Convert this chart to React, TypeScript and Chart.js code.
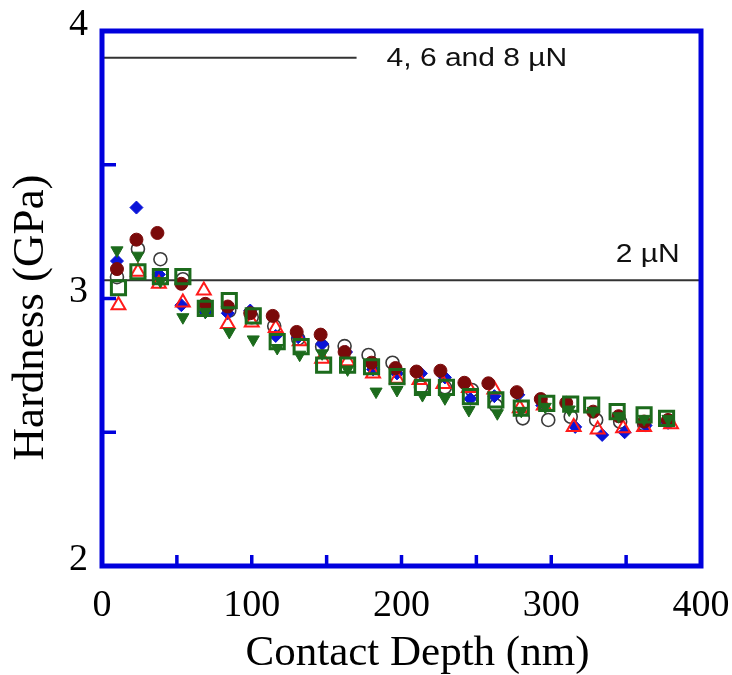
import React, { useEffect, useRef } from "react";
import { Chart, registerables } from "chart.js";

Chart.register(...registerables);

// ---- data (contact depth in nm, hardness in GPa) ----
const xTicks = [0, 100, 200, 300, 400];
const yTicks = [2, 3, 4];
const xMinorTicks = [50, 100, 150, 200, 250, 300, 350];
const yMinorTicks = [2.5, 3, 3.5];

const blueDepth = [10, 23, 38, 53, 69, 84, 99, 116, 131, 147, 163, 181, 197, 213, 229, 246, 262, 278, 294, 316, 334, 349, 363, 378];
const blueHard = [3.14, 3.34, 3.09, 2.975, 2.95, 2.945, 2.955, 2.86, 2.855, 2.83, 2.8, 2.735, 2.72, 2.72, 2.705, 2.625, 2.635, 2.64, 2.6, 2.52, 2.49, 2.5, 2.525, 2.535];

const maroonDepth = [10, 23, 37, 53, 69, 84, 99, 114, 130, 146, 162, 180, 196, 210, 226, 242, 258, 277, 293, 310, 328, 345, 362, 378];
const maroonHard = [3.11, 3.22, 3.245, 3.055, 2.98, 2.97, 2.945, 2.935, 2.875, 2.865, 2.8, 2.76, 2.74, 2.727, 2.73, 2.685, 2.683, 2.65, 2.624, 2.61, 2.577, 2.56, 2.54, 2.546];

const openCircleDepth = [10, 24, 39, 54, 69, 85, 100, 115, 131, 147, 162, 178, 194, 213, 229, 247, 263, 281, 298, 313, 330, 346, 362, 378];
const openCircleHard = [3.08, 3.185, 3.147, 3.072, 2.96, 2.955, 2.93, 2.897, 2.85, 2.82, 2.822, 2.789, 2.76, 2.668, 2.668, 2.658, 2.6, 2.552, 2.546, 2.558, 2.546, 2.539, 2.53, 2.54];

const redTriDepth = [11, 24, 38, 54, 68, 84, 100, 116, 132, 147, 164, 181, 197, 212, 228, 245, 262, 279, 295, 315, 331, 348, 362, 380];
const redTriHard = [2.975, 3.1, 3.055, 2.985, 3.03, 2.905, 2.91, 2.89, 2.84, 2.775, 2.765, 2.72, 2.7, 2.695, 2.68, 2.665, 2.66, 2.59, 2.6, 2.52, 2.51, 2.515, 2.52, 2.53];

const greenTriDepth = [10, 24, 39, 54, 69, 85, 101, 117, 132, 147, 164, 183, 197, 214, 229, 245, 264, 280, 296, 312, 328, 345, 362, 378];
const greenTriHard = [3.18, 3.16, 3.065, 2.93, 2.95, 2.875, 2.847, 2.815, 2.79, 2.795, 2.735, 2.652, 2.658, 2.639, 2.627, 2.583, 2.571, 2.58, 2.595, 2.585, 2.58, 2.56, 2.55, 2.55];

const squareDepth = [11, 24, 39, 54, 69, 85, 101, 117, 133, 148, 164, 180, 197, 214, 230, 246, 263, 280, 297, 313, 327, 344, 362, 377];
const squareHard = [3.04, 3.1, 3.082, 3.082, 2.963, 2.992, 2.935, 2.839, 2.82, 2.751, 2.751, 2.745, 2.708, 2.668, 2.668, 2.633, 2.621, 2.59, 2.608, 2.605, 2.602, 2.577, 2.565, 2.552];

// reference lines
const line2Depth = [0, 400];
const line2Hard = [3.068, 3.068];
const line468Depth = [0, 170];
const line468Hard = [3.9, 3.9];
const label2 = "2 µN";
const label468 = "4, 6 and 8 µN";
const xTitle = "Contact Depth (nm)";
const yTitle = "Hardness (GPa)";

const pts = (xs: number[], ys: number[]) => xs.map((x, i) => ({ x, y: ys[i] }));

const SERIF = "'Liberation Serif', 'Times New Roman', Times, serif";
const SANS = "'Liberation Sans', Arial, Helvetica, sans-serif";
const FRAME = "#0000dd";

const framePlugin = {
  id: "framePlugin",
  afterDraw(chart: any) {
    const { ctx, chartArea: a, scales } = chart;
    const xs = scales.x;
    const ys = scales.y;
    ctx.save();
    // inward ticks
    ctx.strokeStyle = FRAME;
    ctx.lineWidth = 3.5;
    ctx.beginPath();
    for (const v of xMinorTicks) {
      const px = xs.getPixelForValue(v);
      ctx.moveTo(px, a.bottom);
      ctx.lineTo(px, a.bottom - 11);
    }
    for (const v of yMinorTicks) {
      const py = ys.getPixelForValue(v);
      ctx.moveTo(a.left, py);
      ctx.lineTo(a.left + 14, py);
    }
    ctx.stroke();
    // frame
    ctx.lineWidth = 5;
    ctx.strokeRect(a.left, a.top, a.right - a.left, a.bottom - a.top);

    // annotation labels
    ctx.fillStyle = "#111";
    ctx.font = `25px ${SANS}`;
    ctx.textBaseline = "alphabetic";
    ctx.textAlign = "left";
    const drawStretched = (t: string, x: number, y: number) => {
      ctx.save();
      ctx.translate(x, y);
      ctx.scale(1.2, 1);
      ctx.fillText(t, 0, 0);
      ctx.restore();
    };
    drawStretched(label468, xs.getPixelForValue(190), ys.getPixelForValue(3.9) + 8);
    drawStretched(label2, xs.getPixelForValue(343), ys.getPixelForValue(3.068) - 18);

    // axis titles
    ctx.fillStyle = "#000";
    ctx.font = `43px ${SERIF}`;
    ctx.textAlign = "center";
    ctx.fillText(xTitle, (a.left + a.right) / 2 + 16, 665);
    ctx.save();
    ctx.translate(43, (a.top + a.bottom) / 2 + 19);
    ctx.rotate(-Math.PI / 2);
    ctx.font = `45px ${SERIF}`;
    ctx.fillText(yTitle, 0, 0);
    ctx.restore();
    ctx.restore();
  },
};

export default function App() {
  const ref = useRef<HTMLCanvasElement | null>(null);
  useEffect(() => {
    if (!ref.current) return;
    const chart = new Chart(ref.current, {
      type: "scatter",
      data: {
        datasets: [
          {
            type: "line",
            data: pts(line2Depth, line2Hard),
            borderColor: "#333",
            borderWidth: 2,
            pointRadius: 0,
            order: 10,
          },
          {
            type: "line",
            data: pts(line468Depth, line468Hard),
            borderColor: "#333",
            borderWidth: 2,
            pointRadius: 0,
            order: 10,
          },
          {
            data: pts(openCircleDepth, openCircleHard),
            pointStyle: "circle",
            pointRadius: 6.5,
            backgroundColor: "rgba(255,255,255,0)",
            borderColor: "#3a3a3a",
            pointBorderWidth: 1.6,
            order: 6,
          },
          {
            data: pts(blueDepth, blueHard),
            pointStyle: "rectRot",
            pointRadius: 6.5,
            backgroundColor: "#0a14d8",
            borderColor: "#0a14d8",
            pointBorderWidth: 1,
            order: 5,
          },
          {
            data: pts(redTriDepth, redTriHard),
            pointStyle: "triangle",
            pointRadius: 8,
            backgroundColor: "rgba(255,255,255,0)",
            borderColor: "#ff1a1a",
            pointBorderWidth: 2,
            order: 4,
          },
          {
            data: pts(maroonDepth, maroonHard),
            pointStyle: "circle",
            pointRadius: 6.5,
            backgroundColor: "#7a0a0a",
            borderColor: "#7a0a0a",
            pointBorderWidth: 1,
            order: 3,
          },
          {
            data: pts(greenTriDepth, greenTriHard),
            pointStyle: "triangle",
            rotation: 180,
            pointRadius: 7,
            backgroundColor: "#1c6b1c",
            borderColor: "#1c6b1c",
            pointBorderWidth: 1,
            order: 2,
          },
          {
            data: pts(squareDepth, squareHard),
            pointStyle: "rect",
            pointRadius: 10,
            backgroundColor: "rgba(255,255,255,0)",
            borderColor: "#1c6b1c",
            pointBorderWidth: 3,
            order: 1,
          },
        ] as any,
      },
      options: {
        animation: false,
        responsive: false,
        layout: { padding: { left: 0, top: 31, right: 31, bottom: 0 } },
        plugins: { legend: { display: false }, tooltip: { enabled: false } },
        scales: {
          x: {
            type: "linear",
            min: 0,
            max: 400,
            afterFit: (s: any) => {
              s.height = 109;
              s.paddingLeft = 0;
              s.paddingRight = 0;
            },
            afterBuildTicks: (s: any) => {
              s.ticks = xTicks.map((v) => ({ value: v }));
            },
            grid: { display: false, drawTicks: false },
            border: { display: false },
            ticks: {
              padding: 17,
              color: "#000",
              font: { family: SERIF, size: 38 },
              maxRotation: 0,
            },
          },
          y: {
            type: "linear",
            min: 2,
            max: 4,
            afterFit: (s: any) => {
              s.width = 102;
              s.paddingTop = 0;
              s.paddingBottom = 0;
            },
            afterBuildTicks: (s: any) => {
              s.ticks = yTicks.map((v) => ({ value: v }));
            },
            grid: { display: false, drawTicks: false },
            border: { display: false },
            ticks: {
              padding: 14,
              labelOffset: -6,
              color: "#000",
              font: { family: SERIF, size: 38 },
            },
          },
        },
      },
      plugins: [framePlugin],
    });
    return () => chart.destroy();
  }, []);

  return (
    <div style={{ position: "absolute", left: 0, top: 0, width: 732, height: 675, background: "#fff" }}>
      <canvas ref={ref} width={732} height={675} style={{ display: "block", width: 732, height: 675 }} />
    </div>
  );
}
